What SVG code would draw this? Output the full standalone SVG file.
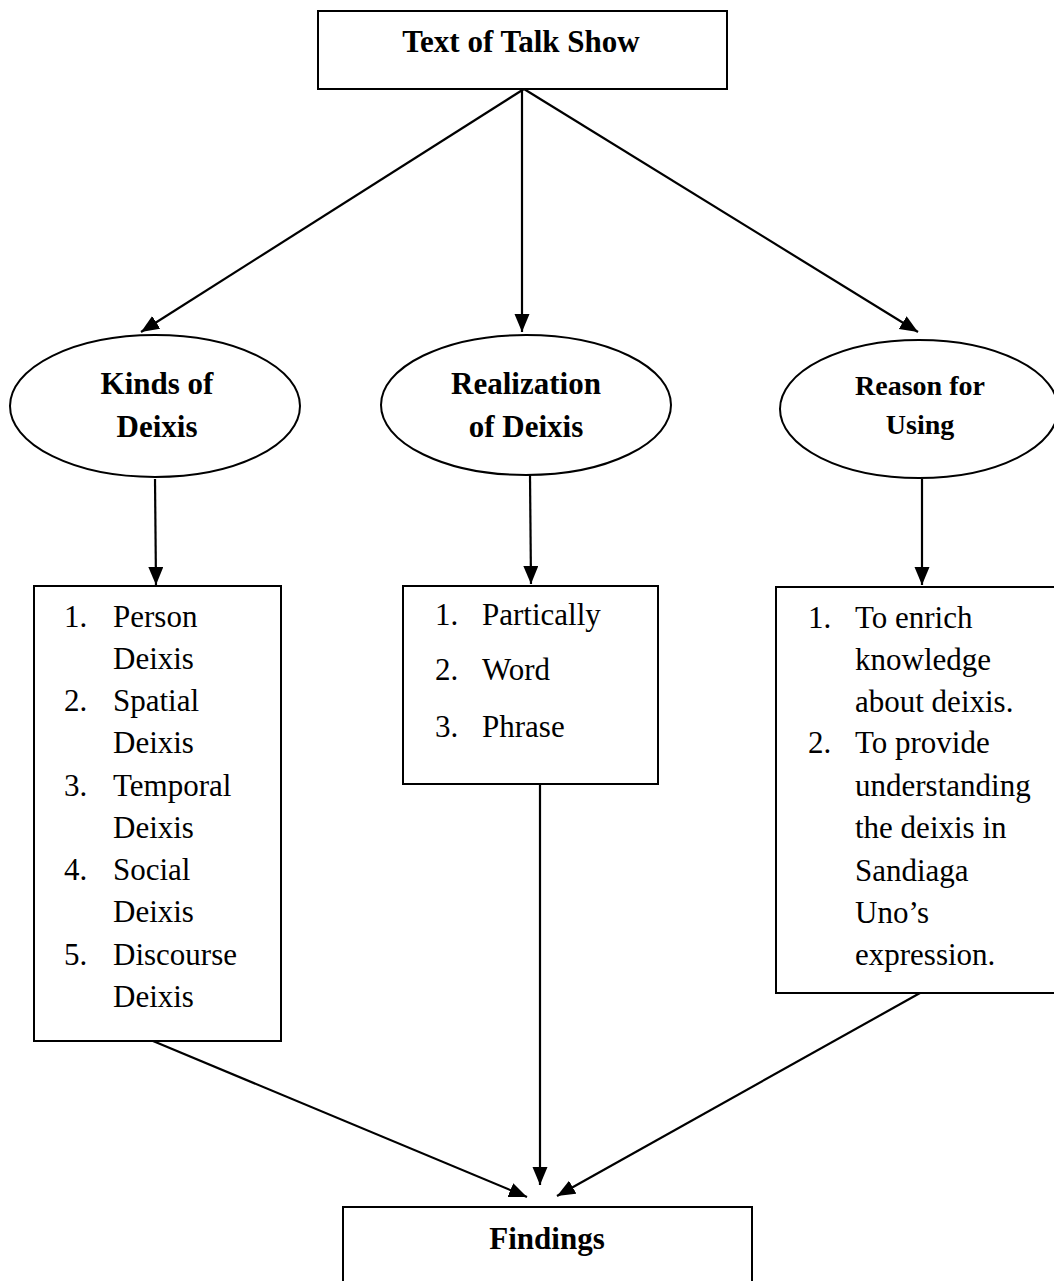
<svg xmlns="http://www.w3.org/2000/svg" width="1054" height="1281" viewBox="0 0 1054 1281">
<style>
.shape{fill:#fff;stroke:#000;stroke-width:2}
.b{font-family:"Liberation Serif",serif;font-weight:bold;font-size:31px;fill:#000;text-anchor:middle}
.r{font-family:"Liberation Serif",serif;font-size:31px;fill:#000}
.ln{stroke:#000;stroke-width:2.2;fill:none;marker-end:url(#ah)}
</style>
<defs>
<marker id="ah" markerUnits="userSpaceOnUse" markerWidth="20" markerHeight="16" refX="18" refY="7.5" orient="auto">
<path d="M0,0 L18,7.5 L0,15 Z" fill="#000"/>
</marker>
</defs>
<rect width="1054" height="1281" fill="#fff"/>
<g id="connectors">
<line class="ln" x1="524" y1="89" x2="141" y2="332"/>
<line class="ln" x1="522" y1="89" x2="522" y2="332"/>
<line class="ln" x1="524" y1="89" x2="918" y2="332"/>
<line class="ln" x1="155" y1="479" x2="156" y2="585"/>
<line class="ln" x1="530" y1="475" x2="531" y2="584"/>
<line class="ln" x1="922" y1="479" x2="922" y2="585"/>
<line class="ln" x1="153" y1="1041" x2="527" y2="1197"/>
<line class="ln" x1="540" y1="784" x2="540" y2="1185"/>
<line class="ln" x1="920" y1="993" x2="557" y2="1196"/>
</g>
<g id="top">
<rect class="shape" x="318" y="11" width="409" height="78"/>
<text class="b" x="521" y="52">Text of Talk Show</text>
</g>
<g id="kinds">
<ellipse class="shape" cx="155" cy="406" rx="145" ry="71"/>
<text class="b" x="157" y="394">Kinds of</text>
<text class="b" x="157" y="437">Deixis</text>
</g>
<g id="realization">
<ellipse class="shape" cx="526" cy="405" rx="145" ry="70"/>
<text class="b" x="526" y="394">Realization</text>
<text class="b" x="526" y="437">of Deixis</text>
</g>
<g id="reason">
<ellipse class="shape" cx="919" cy="409" rx="139" ry="69"/>
<text class="b" x="920" y="395" style="font-size:28px">Reason for</text>
<text class="b" x="920" y="434" style="font-size:28px">Using</text>
</g>
<g id="kinds-list">
<rect class="shape" x="34" y="586" width="247" height="455"/>
<text class="r" x="64" y="627">1.</text><text class="r" x="113" y="627">Person</text>
<text class="r" x="113" y="669">Deixis</text>
<text class="r" x="64" y="711">2.</text><text class="r" x="113" y="711">Spatial</text>
<text class="r" x="113" y="753">Deixis</text>
<text class="r" x="64" y="796">3.</text><text class="r" x="113" y="796">Temporal</text>
<text class="r" x="113" y="838">Deixis</text>
<text class="r" x="64" y="880">4.</text><text class="r" x="113" y="880">Social</text>
<text class="r" x="113" y="922">Deixis</text>
<text class="r" x="64" y="965">5.</text><text class="r" x="113" y="965">Discourse</text>
<text class="r" x="113" y="1007">Deixis</text>
</g>
<g id="realization-list">
<rect class="shape" x="403" y="586" width="255" height="198"/>
<text class="r" x="435" y="625">1.</text><text class="r" x="482" y="625">Partically</text>
<text class="r" x="435" y="680">2.</text><text class="r" x="482" y="680">Word</text>
<text class="r" x="435" y="737">3.</text><text class="r" x="482" y="737">Phrase</text>
</g>
<g id="reason-list">
<rect class="shape" x="776" y="587" width="280" height="406"/>
<text class="r" x="808" y="628">1.</text><text class="r" x="855" y="628">To enrich</text>
<text class="r" x="855" y="670">knowledge</text>
<text class="r" x="855" y="712">about deixis.</text>
<text class="r" x="808" y="753">2.</text><text class="r" x="855" y="753">To provide</text>
<text class="r" x="855" y="796">understanding</text>
<text class="r" x="855" y="838">the deixis in</text>
<text class="r" x="855" y="881">Sandiaga</text>
<text class="r" x="855" y="923">Uno’s</text>
<text class="r" x="855" y="965">expression.</text>
</g>
<g id="findings">
<rect class="shape" x="343" y="1207" width="409" height="90"/>
<text class="b" x="547" y="1249">Findings</text>
</g>
</svg>
